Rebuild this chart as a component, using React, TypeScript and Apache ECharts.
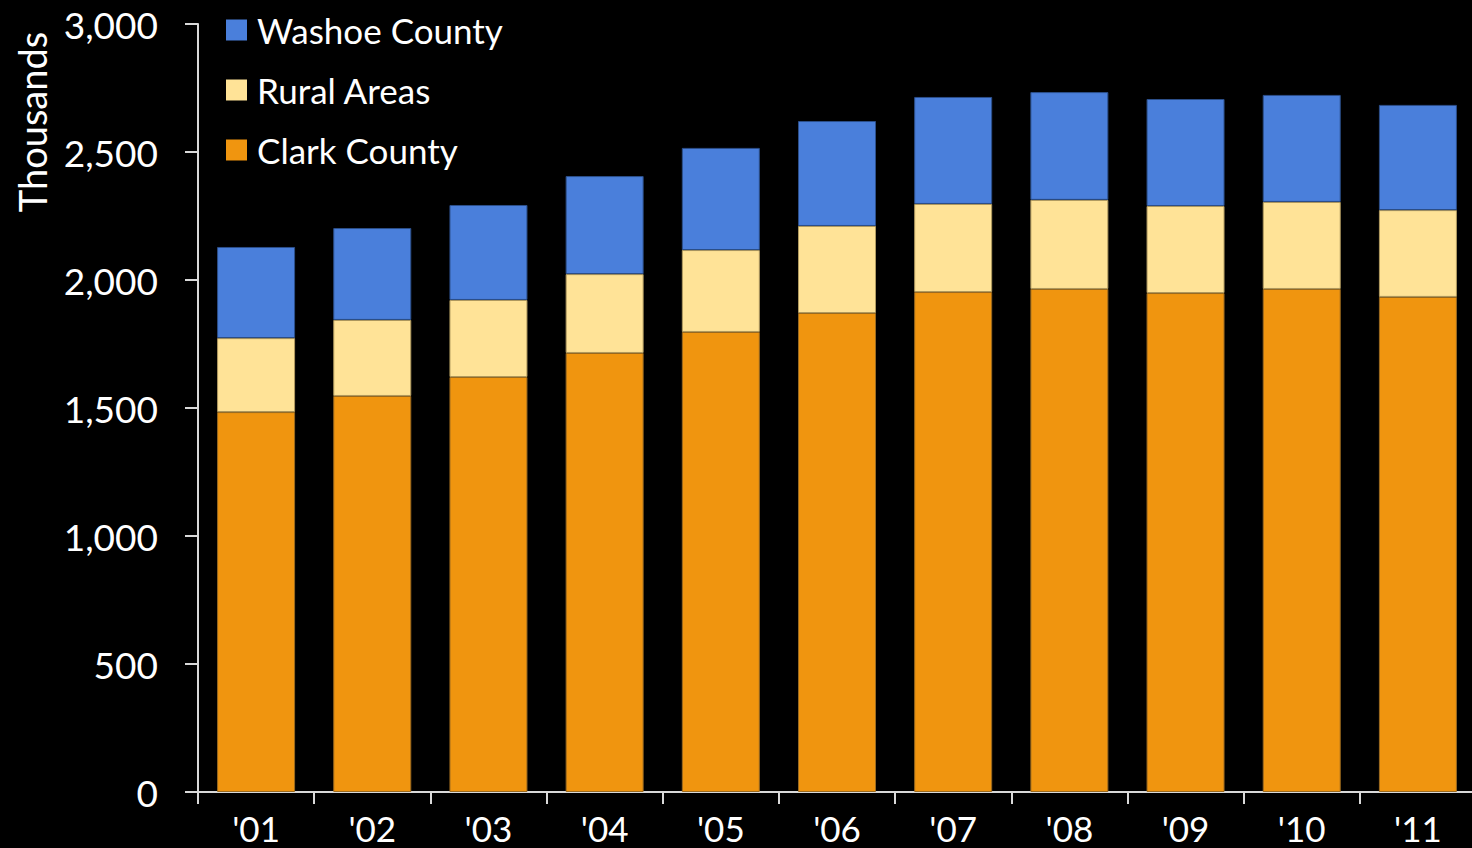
import React, { useEffect, useRef } from "react";
import * as echarts from "echarts";

const years = ["'01", "'02", "'03", "'04", "'05", "'06", "'07", "'08", "'09", "'10", "'11"];
const clarkCounty = [1484, 1547, 1621, 1715, 1797, 1871, 1953, 1965, 1949, 1965, 1934];
const ruralAreas = [289, 297, 301, 308, 320, 340, 344, 348, 340, 340, 339];
const washoeCounty = [356, 359, 371, 383, 399, 410, 418, 421, 418, 418, 411];
const yTicks = { min: 0, max: 3000, interval: 500 };

const FONT = "Lato";

export default function App() {
  const ref = useRef<HTMLDivElement>(null);
  useEffect(() => {
    const chart = echarts.init(ref.current!, null, { renderer: "svg" });
    const barCommon = {
      type: "bar" as const,
      stack: "total",
      barWidth: 78,
    };
    chart.setOption({
      animation: false,
      backgroundColor: "#000000",
      textStyle: { fontFamily: FONT },
      grid: { left: 198, right: 0, top: 24, bottom: 56, containLabel: false },
      legend: {
        left: 221,
        top: 4,
        orient: "vertical",
        itemWidth: 21,
        itemHeight: 21,
        itemGap: 18,
        icon: "rect",
        itemStyle: { borderWidth: 0 },
        data: ["Washoe County", "Rural Areas", "Clark County"],
        textStyle: {
          color: "#ffffff",
          fontSize: 35,
          lineHeight: 42,
          fontFamily: FONT,
          padding: [0, 0, 0, 5],
        },
      },
      xAxis: {
        type: "category",
        data: years,
        axisLine: { show: true, lineStyle: { color: "#d9d9d9", width: 2 } },
        axisTick: { show: true, length: 12, lineStyle: { color: "#d9d9d9", width: 2 } },
        axisLabel: { color: "#ffffff", fontSize: 35, lineHeight: 30, fontFamily: FONT, margin: 21 },
      },
      yAxis: {
        type: "value",
        min: yTicks.min,
        max: yTicks.max,
        interval: yTicks.interval,
        splitLine: { show: false },
        axisLine: { show: true, lineStyle: { color: "#d9d9d9", width: 2 } },
        axisTick: { show: true, length: 13, lineStyle: { color: "#d9d9d9", width: 2 } },
        axisLabel: {
          color: "#ffffff",
          fontSize: 37,
          fontFamily: FONT,
          margin: 40,
          formatter: (v: number) => v.toLocaleString("en-US"),
        },
      },
      graphic: [
        {
          type: "text",
          x: 32,
          y: 122,
          rotation: Math.PI / 2,
          style: {
            text: "Thousands",
            fill: "#ffffff",
            fontSize: 38,
            fontFamily: FONT,
            align: "center",
            verticalAlign: "middle",
          },
        },
      ],
      series: [
        {
          ...barCommon,
          name: "Clark County",
          data: clarkCounty,
          itemStyle: { color: "#F0950F", borderColor: "#9a6a20", borderWidth: 1 },
        },
        {
          ...barCommon,
          name: "Rural Areas",
          data: ruralAreas,
          itemStyle: { color: "#FFE397", borderColor: "#b09a60", borderWidth: 1 },
        },
        {
          ...barCommon,
          name: "Washoe County",
          data: washoeCounty,
          itemStyle: { color: "#4A7FDB", borderColor: "#2c4f8a", borderWidth: 1 },
        },
      ],
    });
    return () => chart.dispose();
  }, []);
  return (
    <div
      style={{
        position: "fixed",
        left: 0,
        top: 0,
        width: 1472,
        height: 848,
        overflow: "hidden",
        background: "#000",
      }}
    >
      <div ref={ref} style={{ width: 1476, height: 848 }} />
    </div>
  );
}
